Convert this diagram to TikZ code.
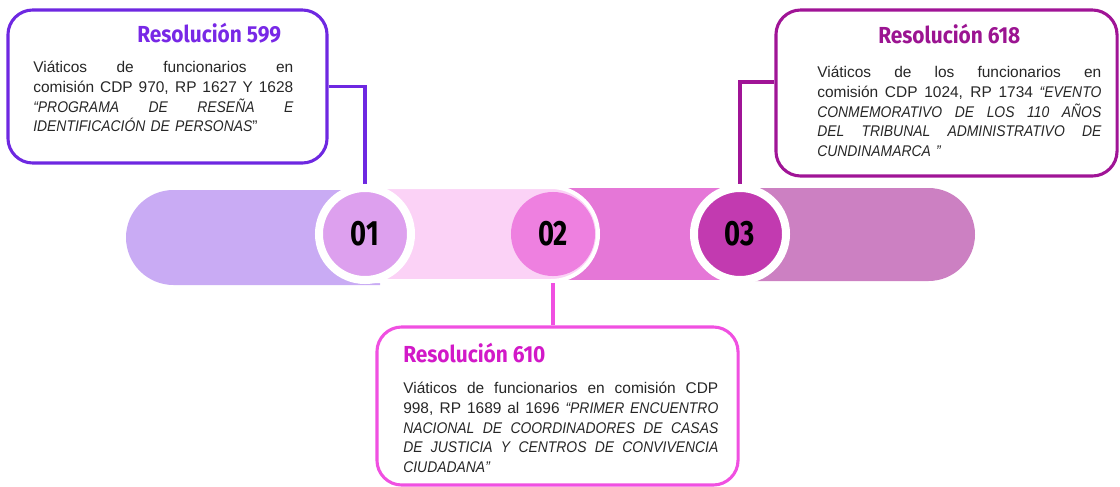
\documentclass[tikz,border=0pt]{standalone}
\usepackage{fontspec}
\setmainfont{Liberation Sans}[ItalicFeatures={FakeStretch=0.9}]
\newfontfamily\titlefont[FakeStretch=0.9]{Fira Sans}
\newfontfamily\numfont[FakeStretch=0.78]{Fira Sans}
\usetikzlibrary{positioning}
\pgfdeclarelayer{back}
\pgfsetlayers{back,main}
\setlength{\parindent}{0pt}
\newcommand{\fullline}[1]{\leavevmode{\spaceskip=0.25em plus 1fil\xspaceskip=\spaceskip\hbox to \rowwidth{#1}}}

\definecolor{txt}{HTML}{262626}
\definecolor{l599}{HTML}{6E28E1}
\definecolor{t599}{HTML}{7828E6}
\definecolor{l610}{HTML}{F050E1}
\definecolor{t610}{HTML}{D219C8}
\definecolor{l618}{HTML}{A01496}
\definecolor{t618}{HTML}{9B1491}
\definecolor{seg1}{HTML}{C9ABF4}
\definecolor{seg2}{HTML}{FBD2F6}
\definecolor{seg3}{HTML}{E577D7}
\definecolor{seg4}{HTML}{CC80C2}
\definecolor{circ1}{HTML}{DDA0EE}
\definecolor{circ2}{HTML}{EE80E0}
\definecolor{circ3}{HTML}{C23AB0}

\begin{document}
\begin{tikzpicture}[x=0.025cm,y=0.025cm,
    resbox/.style={draw=#1,line width=2.2pt,rounded corners=0.62cm,inner sep=0pt},
    restitle/.style={font=\titlefont\bfseries\fontsize{16.5}{18}\selectfont,text=#1,anchor=base west,inner sep=0pt},
    restext/.style={font=\fontsize{11}{14}\selectfont,text=txt,text width=#1,align=left,anchor=north west,inner sep=0pt,
        execute at begin node={\def\rowwidth{#1}}},
    numcircle/.style={circle,fill=#1,draw=white,line width=0.2cm,minimum size=2.3cm,inner sep=0pt,
        font=\numfont\bfseries\fontsize{25}{25}\selectfont},
    link/.style={draw=#1,line width=2.2pt}]
    \useasboundingbox (0,0) rectangle (1120,-487);

    % bar
    \fill[seg4] (740,-188) -- (928.5,-188) arc[start angle=90,end angle=-90,radius=46.5] -- (740,-281) -- cycle;
    \fill[seg3] (560,-188) rectangle (745,-280);
    \fill[seg1] (380,-190) -- (173.5,-190) arc[start angle=90,end angle=270,radius=47.5] -- (380,-285) -- cycle;
    \filldraw[fill=seg2,draw=white,line width=0.1cm] (365,-187) -- (551,-187) arc[start angle=90,end angle=-90,radius=47] -- (365,-281) -- cycle;

    \node [numcircle=circ1] (c01) at (365,-234) {01};
    \node [numcircle=circ2,draw=none,minimum size=2.1cm] (c02) at (553,-234) {02};
    \node [numcircle=circ3] (c03) at (740,-234) {03};

    % boxes
    \node [resbox=l599,minimum width=7.975cm,minimum height=3.825cm] (b599) at (167.5,-86.5) {};
    \node [restitle=t599] (h599) at (137,-42) {Resolución 599};
    \node [restext=6.5cm] (d599) at (33,-61) {
        \fullline{Viáticos de funcionarios en}\\
        \fullline{comisión CDP 970, RP 1627 Y 1628}\\
        \fullline{\itshape “PROGRAMA DE RESEÑA E}\\
        \textit{IDENTIFICACIÓN DE PERSONAS}”
    };

    \node [resbox=l618,minimum width=8.525cm,minimum height=4.15cm] (b618) at (946.5,-93) {};
    \node [restitle=t618] (h618) at (878,-43) {Resolución 618};
    \node [restext=7.1cm] (d618) at (817,-66) {
        \fullline{Viáticos de los funcionarios en}\\
        \fullline{comisión CDP 1024, RP 1734 \textit{“EVENTO}}\\
        \fullline{\itshape CONMEMORATIVO DE LOS 110 AÑOS}\\
        \fullline{\itshape DEL TRIBUNAL ADMINISTRATIVO DE}\\
        \textit{CUNDINAMARCA ”}
    };

    \node [resbox=l610,minimum width=9.025cm,minimum height=3.95cm] (b610) at (557.5,-406) {};
    \node [restitle=t610] (h610) at (403,-362) {Resolución 610};
    \node [restext=7.875cm] (d610) at (403,-382) {
        \fullline{Viáticos de funcionarios en comisión CDP}\\
        \fullline{998, RP 1689 al 1696 \textit{“PRIMER ENCUENTRO}}\\
        \fullline{\itshape NACIONAL DE COORDINADORES DE CASAS}\\
        \fullline{\itshape DE JUSTICIA Y CENTROS DE CONVIVENCIA}\\
        \textit{CIUDADANA”}
    };

    \begin{pgfonlayer}{back}
        \draw [link=l599] (b599.east) -| (c01.north);
        \draw [link=l610] (c02) -- (b610.north -| c02);
        \draw [link=l618] ([yshift=0.275cm]b618.west) -| (c03.north);
    \end{pgfonlayer}
\end{tikzpicture}
\end{document}
